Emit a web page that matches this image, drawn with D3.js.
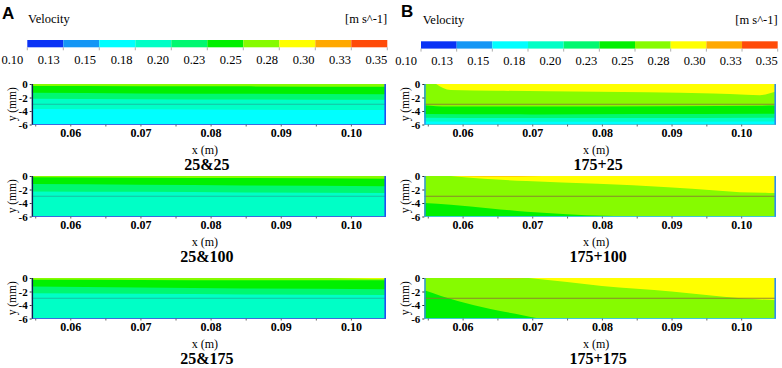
<!DOCTYPE html>
<html>
<head>
<meta charset="utf-8">
<script src="https://cdn.jsdelivr.net/npm/d3@7"></script>
<style>
  body { margin: 0; background: #fff; }
</style>
</head>
<body>
<div id="chart"></div>
<script>
const SERIF = "'Liberation Serif', 'Times New Roman', Times, serif";

// velocity legend classes (m s^-1)
const velLevels = [0.100, 0.125, 0.150, 0.175, 0.200, 0.225, 0.250, 0.275, 0.300, 0.325, 0.350];
const velLabels = ["0.10", "0.13", "0.15", "0.18", "0.20", "0.23", "0.25", "0.28", "0.30", "0.33", "0.35"];
const velColors = ["#0a32f5", "#1496f5", "#00ffff", "#00ffc6", "#00f870", "#00f000",
                   "#86fb00", "#ffff00", "#ffa800", "#ff4a08"];

// axes
const xDomain = [0.0545, 0.105];
const yDomain = [-6, 0];
const xTicks = [0.06, 0.07, 0.08, 0.09, 0.10];
const xMinorTicks = [0.055, 0.065, 0.075, 0.085, 0.095];
const yTicks = [0, -2, -4, -6];
const interfaceDepth = -3;

// panels: A column (25&..) then B column (175+..)
const panelTitles = ["25&25", "25&100", "25&175", "175+25", "175+100", "175+175"];
const panelBase = [2, 3, 3, 2, 6, 6];   // class that fills the whole domain first

// contour regions painted over the base: x (m), y (mm) of the boundary, filled up/down to `to`
const xs4 = [0.0545, 0.07, 0.085, 0.105];
const regionsA1 = [
  { cls: 3, x: xs4, y: [-3.7, -3.75, -3.8, -3.85], to: 0 },
  { cls: 4, x: xs4, y: [-2.2, -2.25, -2.3, -2.35], to: 0 },
  { cls: 5, x: xs4, y: [-1.3, -1.4, -1.45, -1.5], to: 0 },
  { cls: 6, x: xs4, y: [-0.3, -0.32, -0.35, -0.4], to: 0 }
];
const regionsA2 = [
  { cls: 4, x: xs4, y: [-2.3, -2.35, -2.45, -2.5], to: 0 },
  { cls: 5, x: xs4, y: [-1.2, -1.3, -1.4, -1.5], to: 0 },
  { cls: 6, x: xs4, y: [-0.2, -0.25, -0.3, -0.4], to: 0 }
];
const regionsA3 = [
  { cls: 4, x: xs4, y: [-2.25, -2.35, -2.45, -2.5], to: 0 },
  { cls: 5, x: xs4, y: [-1.25, -1.4, -1.55, -1.65], to: 0 },
  { cls: 6, x: xs4, y: [-0.25, -0.28, -0.32, -0.35], to: 0 },
  { cls: 7, x: [0.097, 0.101, 0.105], y: [0, -0.08, -0.12], to: 0 }
];
const regionsB1 = [
  { cls: 3, x: xs4, y: [-5.55, -5.6, -5.6, -5.55], to: 0 },
  { cls: 4, x: xs4, y: [-5.0, -5.05, -5.05, -5.0], to: 0 },
  { cls: 5, x: xs4, y: [-4.45, -4.5, -4.45, -4.4], to: 0 },
  { cls: 6, x: [0.0545, 0.058, 0.07, 0.09, 0.105], y: [-3.15, -3.35, -3.35, -3.3, -3.2], to: 0 },
  { cls: 7, x: [0.0562, 0.0572, 0.0583, 0.065, 0.0724, 0.0866, 0.096, 0.1007, 0.1027, 0.104, 0.105],
    y: [0, -0.6, -0.9, -1.0, -1.07, -1.22, -1.42, -1.6, -1.65, -1.4, -1.1], to: 0 }
];
const regionsB2 = [
  { cls: 7, x: [0.0583, 0.063, 0.0692, 0.0794, 0.0895, 0.104, 0.105],
    y: [0, -0.4, -0.75, -1.15, -1.65, -2.5, -2.5], to: 0 },
  { cls: 8, x: [0.0585, 0.063, 0.068, 0.0715], y: [0, -0.08, -0.08, 0], to: 0 },
  { cls: 5, x: [0.0545, 0.0583, 0.064, 0.0692, 0.075, 0.0805, 0.083],
    y: [-4.0, -4.25, -4.8, -5.3, -5.65, -5.9, -6], to: -6 }
];
const regionsB3 = [
  { cls: 7, x: [0.0695, 0.075, 0.08, 0.085, 0.09, 0.095, 0.1, 0.105],
    y: [0, -0.6, -1.2, -1.6, -2.0, -2.5, -3.0, -3.3], to: 0 },
  { cls: 8, x: [0.064, 0.067, 0.0695], y: [0, -0.07, 0], to: 0 },
  { cls: 5, x: [0.0545, 0.0593, 0.064, 0.0686, 0.071], y: [-1.8, -3.4, -4.6, -5.5, -6.0], to: -6 }
];
const panelRegions = [regionsA1, regionsA2, regionsA3, regionsB1, regionsB2, regionsB3];

// ---- layout ----
const W = 782, H = 368;
const cols = [
  { left: 31.7, right: 386, edgeL: "#101850", edgeR: "#1f4ff5", bottom: "#3a6ae0", line: "#18b8a0" },
  { left: 424.3, right: 776, edgeL: "#2d8cf0", edgeR: "#2d8cf0", bottom: "#40c8d8", line: "#8a7a30" }
];
const rowTops = [84, 176, 278];
const plotH = 40.5;

const bars = [
  { x0: 27.3, x1: 387.3, y: 40, h: 7.3, labX0: 23.3, labBase: 64, velX: 28, velBase: 22.5, letter: "A", letX: 2, letBase: 18.5 },
  { x0: 421, x1: 777.7, y: 41.3, h: 7.3, labX0: 417, labBase: 64.5, velX: 422.7, velBase: 24, letter: "B", letX: 401, letBase: 17 }
];

const svg = d3.select("#chart").append("svg")
  .attr("width", W).attr("height", H)
  .attr("font-family", SERIF);
const defs = svg.append("defs");

function drawBar(b) {
  const g = svg.append("g");
  const bx = d3.scaleLinear().domain([velLevels[0], velLevels[velLevels.length - 1]]).range([b.x0, b.x1]);
  const lx = d3.scaleLinear().domain(bx.domain()).range([b.labX0, b.x1]);

  g.selectAll("rect.seg")
    .data(d3.range(velColors.length))
    .join("rect")
    .attr("class", "seg")
    .attr("x", i => bx(velLevels[i]))
    .attr("width", i => bx(velLevels[i + 1]) - bx(velLevels[i]))
    .attr("y", b.y).attr("height", b.h)
    .attr("fill", i => velColors[i]);

  g.selectAll("line.tk")
    .data(velLevels)
    .join("line")
    .attr("class", "tk")
    .attr("x1", d => bx(d)).attr("x2", d => bx(d))
    .attr("y1", b.y + b.h).attr("y2", b.y + b.h + 3)
    .attr("stroke", "#999").attr("stroke-width", 0.8);

  g.selectAll("text.lab")
    .data(velLevels)
    .join("text")
    .attr("class", "lab")
    .attr("x", d => lx(d))
    .attr("y", b.labBase)
    .attr("text-anchor", "end")
    .attr("font-size", 12.5)
    .text((d, i) => velLabels[i]);

  g.append("text").attr("x", b.velX).attr("y", b.velBase)
    .attr("font-size", 12.5).text("Velocity");
  g.append("text").attr("x", b.x1).attr("y", b.velBase)
    .attr("text-anchor", "end").attr("font-size", 12.5).text("[m s^-1]");
  g.append("text").attr("x", b.letX).attr("y", b.letBase)
    .attr("font-family", "'Liberation Sans', Arial, sans-serif")
    .attr("font-weight", "bold").attr("font-size", 17).text(b.letter);
}

function drawPanel(p) {
  const c = cols[Math.floor(p / 3)];
  const top = rowTops[p % 3];
  const bottom = top + plotH;
  const x = d3.scaleLinear().domain(xDomain).range([c.left, c.right]);
  const y = d3.scaleLinear().domain(yDomain).range([bottom, top]);
  const g = svg.append("g");

  defs.append("clipPath").attr("id", "clip" + p)
    .append("rect")
    .attr("x", c.left).attr("y", top)
    .attr("width", c.right - c.left).attr("height", plotH);

  const body = g.append("g").attr("clip-path", `url(#clip${p})`);
  body.append("rect")
    .attr("x", c.left).attr("y", top)
    .attr("width", c.right - c.left).attr("height", plotH)
    .attr("fill", velColors[panelBase[p]]);

  const area = d3.area()
    .x(d => x(d[0]))
    .y1(d => y(d[1]))
    .curve(d3.curveMonotoneX);

  body.selectAll("path.band")
    .data(panelRegions[p])
    .join("path")
    .attr("class", "band")
    .attr("d", r => area.y0(y(r.to))(d3.zip(r.x, r.y)))
    .attr("fill", r => velColors[r.cls]);

  // liquid interface
  body.append("line")
    .attr("x1", c.left).attr("x2", c.right)
    .attr("y1", y(interfaceDepth)).attr("y2", y(interfaceDepth))
    .attr("stroke", c.line).attr("stroke-width", 0.9);

  // walls
  g.append("line").attr("x1", c.left).attr("x2", c.right)
    .attr("y1", bottom).attr("y2", bottom)
    .attr("stroke", c.bottom).attr("stroke-width", 1);
  g.append("line").attr("x1", c.right - 0.8).attr("x2", c.right - 0.8)
    .attr("y1", top).attr("y2", bottom)
    .attr("stroke", c.edgeR).attr("stroke-width", 1.6);
  g.append("line").attr("x1", c.left + 0.7).attr("x2", c.left + 0.7)
    .attr("y1", top).attr("y2", bottom)
    .attr("stroke", c.edgeL).attr("stroke-width", 1.4);

  // x axis
  const xAxis = g.append("g")
    .attr("transform", `translate(0,${bottom})`)
    .call(d3.axisBottom(x).tickValues(xTicks).tickFormat(d3.format(".2f")).tickSize(2).tickPadding(2))
    .attr("font-family", SERIF).attr("font-size", 12);
  g.append("g")
    .attr("transform", `translate(0,${bottom})`)
    .call(d3.axisBottom(x).tickValues(xMinorTicks).tickFormat("").tickSize(2))
    .call(a => a.select(".domain").remove())
    .selectAll("line").attr("stroke", "#666");
  xAxis.select(".domain").remove();
  xAxis.selectAll("line").attr("stroke", "#666");
  xAxis.selectAll("text").attr("font-weight", "bold").attr("fill", "#000");

  // y axis
  const yAxis = g.append("g")
    .attr("transform", `translate(${c.left},0)`)
    .call(d3.axisLeft(y).tickValues(yTicks).tickFormat(d => String(d)).tickSize(2).tickPadding(2))
    .attr("font-family", SERIF).attr("font-size", 11);
  yAxis.select(".domain").remove();
  yAxis.selectAll("line").attr("stroke", "#333");
  yAxis.selectAll("text").attr("font-weight", "bold").attr("fill", "#000");

  g.append("text")
    .attr("transform", `translate(${c.left - 15.5},${(top + bottom) / 2})rotate(-90)`)
    .attr("text-anchor", "middle")
    .attr("font-size", 11.5)
    .text("y (mm)");

  const cx = (c.left + c.right) / 2 - 4;
  g.append("text").attr("x", cx).attr("y", bottom + 29)
    .attr("text-anchor", "middle").attr("font-size", 12).text("x (m)");
  g.append("text").attr("x", cx + 2).attr("y", bottom + 45)
    .attr("text-anchor", "middle").attr("font-size", 16).attr("font-weight", "bold")
    .text(panelTitles[p]);
}

bars.forEach(drawBar);
d3.range(panelTitles.length).forEach(drawPanel);
</script>
</body>
</html>
